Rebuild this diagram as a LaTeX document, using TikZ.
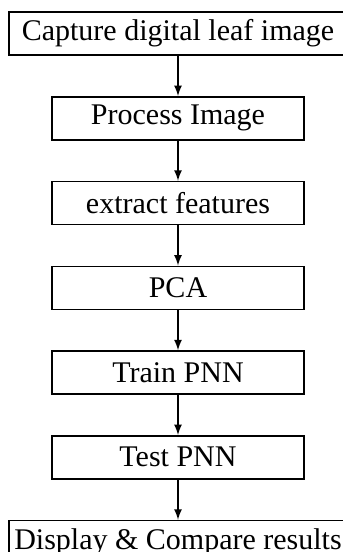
\documentclass[tikz,border=0pt]{standalone}
\usepackage{fontspec}
\setmainfont{Liberation Serif}
\usetikzlibrary{positioning}

\begin{document}
\begin{tikzpicture}[
        stepbox/.style={draw, line width=0.6pt, minimum width=100.8pt, minimum height=17.2pt, inner sep=0pt, font=\fontsize{12}{14}\selectfont},
        widebox/.style={stepbox, minimum width=135.2pt},
        node distance=16.1pt]
        \clip (0,0) rectangle (137.2pt,-220.8pt);
        \node [widebox] (capture) at (71.2pt,-13.4pt) {Capture digital leaf image};
        \node [stepbox, below=of capture] (process) {Process Image};
        \node [stepbox, below=of process] (extract) {extract features};
        \node [stepbox, below=of extract] (pca) {PCA};
        \node [stepbox, below=of pca] (train) {Train PNN};
        \node [stepbox, below=of train] (test) {Test PNN};
        \node [widebox, below=of test] (display) {Display \& Compare results};
        \foreach \a/\b in {capture/process, process/extract, extract/pca, pca/train, train/test, test/display}
            \draw[-latex, line width=0.45pt] (\a) -- (\b);
    \end{tikzpicture}
\end{document}
